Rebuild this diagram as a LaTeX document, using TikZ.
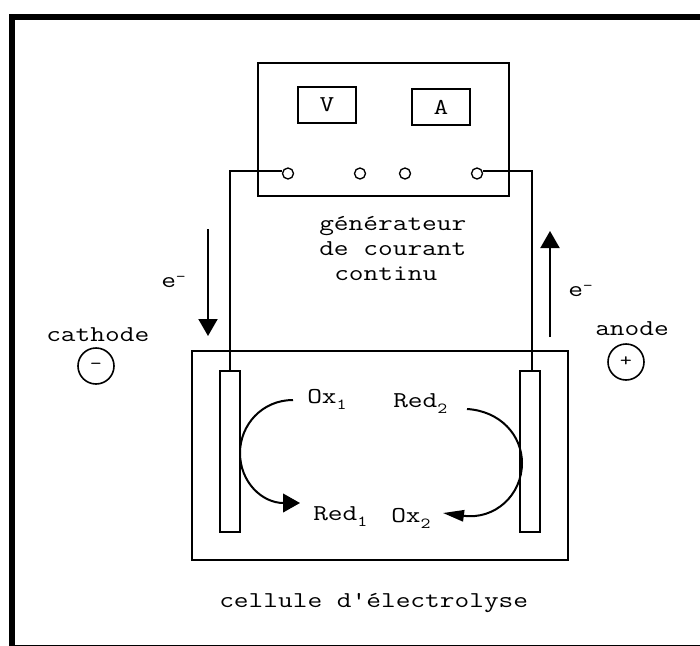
\documentclass[tikz,border=0pt]{standalone}
\usepackage{fontspec}
\setmonofont[FakeStretch=1.26]{Latin Modern Mono}
\usetikzlibrary{arrows.meta, positioning}
\newcommand{\indice}[1]{\raisebox{-4.5pt}{\fontsize{11.5}{11.5}\selectfont #1}}
\newcommand{\exposant}{\raisebox{4.5pt}{\fontsize{11.5}{11.5}\selectfont -}}

\begin{document}
\begin{tikzpicture}[
        x=0.75pt, y=-0.75pt,
        boite/.style={rectangle, draw=black, line width=1.5pt, inner sep=0pt, font=\ttfamily\fontsize{17}{17}\selectfont},
        borne/.style={circle, draw=black, line width=1pt, inner sep=0pt, minimum size=8.25pt},
        signe/.style={circle, draw=black, line width=1.2pt, inner sep=0pt, minimum size=27pt, font=\ttfamily\fontsize{14}{14}\selectfont},
        texte/.style={anchor=base west, inner sep=0pt, font=\ttfamily\fontsize{17}{17}\selectfont},
        fil/.style={line width=1.5pt, draw=black},
        fleche/.style={-{Triangle[length=12.75pt, width=14.25pt]}, line width=1.5pt, draw=black},
        courbe/.style={-{Triangle[length=12.75pt, width=14pt]}, line width=1.5pt, draw=black}
    ]
        \useasboundingbox (0,0) rectangle (700,646);

        % cadre
        \draw[line width=4.5pt] (12,646) -- (12,17) -- (700,17);
        \draw[line width=1pt] (15,645.3) -- (700,645.3);

        % generateur
        \node[boite, minimum width=188.25pt, minimum height=100pt] (generateur) at (383.5,129.75) {};
        \node[boite, minimum width=43.5pt, minimum height=27pt] (voltmetre) at (327,105) {V};
        \node[boite, minimum width=43.5pt, minimum height=27pt] (amperemetre) at (441,107) {A};
        \node[borne] (borne1) at (288,173.5) {};
        \node[borne] (borne2) at (360,173.5) {};
        \node[borne] (borne3) at (405,173.5) {};
        \node[borne] (borne4) at (477,173.5) {};
        \node[texte] (titre1) at (319,230) {générateur};
        \node[texte] (titre2) at (319,255) {de courant};
        \node[texte] (titre3) at (334,280) {continu};

        % cellule
        \node[boite, minimum width=282pt, minimum height=156.75pt] (cellule) at (380,455.5) {};
        \node[boite, minimum width=15pt, minimum height=120.75pt] (plaque1) at (230,451.5) {};
        \node[boite, minimum width=15pt, minimum height=120.75pt] (plaque2) at (530,451.5) {};
        \node[texte] (legende) at (219,607) {cellule d'électrolyse};

        % electrodes
        \node[texte] (cathode) at (46,341) {cathode};
        \node[texte] (anode) at (595,335) {anode};
        \node[signe] (moins) at (96,366) {-};
        \node[signe] (plus) at (626,362) {+};

        % especes
        \node[texte] (ox1) at (307,403) {Ox\indice{1}};
        \node[texte] (red2) at (393,407) {Red\indice{2}};
        \node[texte] (red1) at (313,520) {Red\indice{1}};
        \node[texte] (ox2) at (391,522) {Ox\indice{2}};

        % electrons
        \node[texte] (e1) at (161,287) {e\exposant};
        \node[texte] (e2) at (568,296) {e\exposant};
        \coordinate (e1haut) at (208,229);
        \coordinate (e1bas) at (208,336);
        \coordinate (e2bas) at (550,337);
        \coordinate (e2haut) at (550,231);

        \draw[fil] (borne1.155) -| (plaque1.north);
        \draw[fil] (borne4.25) -| ([xshift=1.5pt]plaque2.north);
        \draw[fleche] (e1haut) -- (e1bas);
        \draw[fleche] (e2bas) -- (e2haut);

        \coordinate (c1a) at (293,400);
        \coordinate (c1b) at (300,503);
        \coordinate (c2a) at (467,409);
        \coordinate (c2b) at (443,513);
        \draw[courbe] (c1a) .. controls (262,400) and (240,425) .. (240,453)
            .. controls (240,482) and (262,503) .. (c1b);
        \draw[courbe, -{Triangle[length=15.75pt, width=8.5pt]}] (c2a) .. controls (500,411) and (522,435) .. (522,463)
            .. controls (522,495) and (495,520) .. (c2b);
    \end{tikzpicture}
\end{document}
